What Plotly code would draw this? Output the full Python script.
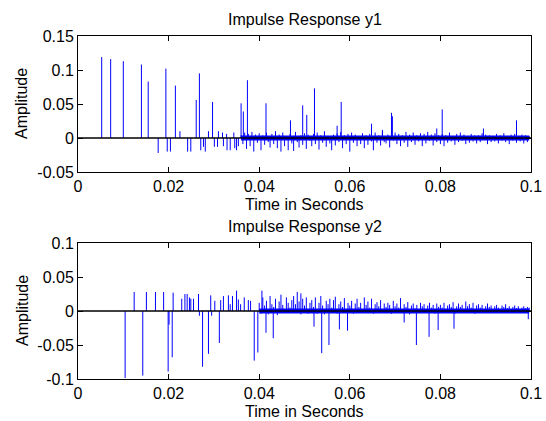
import numpy as np
import plotly.graph_objects as go

# ---------------- data ----------------
# prominent reflections, y1 (time s, amplitude)
y1_spike_t = [0.00523, 0.00721, 0.0100, 0.0140, 0.0155, 0.0177, 0.0194, 0.0197, 0.0204, 0.0215,
              0.0225, 0.0242, 0.0249, 0.0261, 0.0268, 0.0271, 0.0277, 0.0281, 0.0288, 0.0297,
              0.0301, 0.0308, 0.0310, 0.0319, 0.0321, 0.0328, 0.0329, 0.0336, 0.0344, 0.0346,
              0.0350, 0.0354, 0.0360, 0.0365, 0.0374, 0.0415, 0.0469, 0.0496, 0.0505, 0.0522,
              0.0572, 0.0581, 0.0648, 0.0672, 0.0692, 0.0694, 0.0792, 0.0804, 0.0895, 0.0968]
y1_spike_v = [0.119, 0.116, 0.113, 0.108, 0.083, -0.022, 0.102, -0.020, -0.020, 0.077,
              0.010, -0.020, -0.020, 0.056, 0.095, -0.018, -0.013, -0.020, 0.010, 0.053,
              -0.013, -0.013, 0.010, 0.008, -0.012, 0.006, -0.018, -0.018, 0.008, -0.015,
              -0.018, -0.012, 0.051, 0.039, 0.085, 0.051, 0.026, 0.048, 0.034, 0.073,
              0.018, 0.053, 0.021, 0.012, 0.037, 0.032, 0.014, 0.042, 0.014, 0.026]

# diffuse tail of y1 (milli-units), samples every 0.4 ms from 36 ms
y1_tail_start = 0.036
y1_tail_step = 0.0004
y1_tail_milli = [
    4, -9, 8, -16, 6, -12, 9, -20, 5, -7,
    7, -18, 4, -10, 8, -6, -14, 6, -9, 10,
    -15, 5, -20, 8, -12, 3, -18, 6, -8, -19,
    9, -6, -14, 4, -10, 7, -16, 5, -4, -12,
    6, -9, 8, -17, 4, -7, 10, -13, 3, -8,
    -18, 5, -11, 7, -6, 9, -15, 4, -9, 6,
    -20, 8, -7, 5, -12, 3, -9, 7, -15, 4,
    -10, 6, -5, -18, 8, -7, 4, -11, 9, -6,
    -8, 5, -14, 10, -4, 8, -9, 6, -12, 4,
    -7, 9, -13, 5, -6, 8, -10, 4, -5, 7,
    -12, 6, -8, 9, -4, 5, -11, 7, -6, 4,
    -9, 6, -12, 4, -7, 8, -5, 3, -10, 6,
    -6, 8, -4, 5, -9, 3, -7, 6, -5, 4,
    -8, 4, -6, 7, -3, 5, -9, 4, -6, 3,
    -5, 6, -8, 4, -4, 7, -6, 3, -9, 5,
    -4, 6, -7, 3, -5, 5, -8, 4, -6, 3]

# prominent reflections, y2
y2_spike_t = [0.0104, 0.0124, 0.0143, 0.0151, 0.0171, 0.0189, 0.0199, 0.0201, 0.0208, 0.0210,
              0.0229, 0.0236, 0.0241, 0.0246, 0.0249, 0.0255, 0.0266, 0.0268, 0.0275, 0.0288,
              0.0293, 0.0295, 0.0302, 0.0312, 0.0315, 0.0321, 0.0332, 0.0336, 0.0341, 0.0350,
              0.0354, 0.0359, 0.0367, 0.0376, 0.0381, 0.0389, 0.0397, 0.0406, 0.0415, 0.0431,
              0.0492, 0.0521, 0.0538, 0.0554, 0.0577, 0.0595, 0.0720, 0.0747, 0.0775, 0.0795,
              0.0830, 0.0994]
y2_spike_v = [-0.0985, 0.028, -0.095, 0.028, 0.028, 0.028, -0.089, -0.020, -0.068, 0.027,
              0.018, 0.025, 0.025, 0.020, 0.018, 0.018, 0.025, -0.007, -0.082, -0.063,
              0.023, -0.007, 0.015, -0.047, 0.016, 0.022, 0.023, 0.010, 0.022, 0.030,
              0.017, 0.010, 0.020, 0.016, 0.015, -0.073, -0.061, 0.030, -0.032, -0.040,
              0.026, -0.023, -0.062, -0.050, -0.027, -0.029, -0.017, -0.050, -0.038, -0.028,
              -0.026, -0.012]

# diffuse tail of y2 (milli-units), samples every 0.4 ms from 40 ms
y2_tail_start = 0.040
y2_tail_step = 0.0004
y2_tail_milli = [
    12, -4, 20, 8, 15, -5, 22, 10, 6, 18,
    -6, 14, 24, 9, -3, 20, 12, 5, 16, 22,
    10, 28, 14, -5, 18, 8, 20, -4, 12, 16,
    6, 20, -4, 12, 22, 8, -5, 15, 10, 18,
    5, 16, 21, -4, 10, 14, 6, 19, -3, 12,
    8, 15, -4, 11, 18, 6, 12, -3, 20, 9,
    14, 5, 18, -4, 10, 13, 7, 16, -3, 11,
    6, 12, 9, -4, 15, 7, 11, 5, 19, -3,
    10, 6, 13, -5, 8, 11, 4, 9, -3, 12,
    7, 10, -3, 8, 12, 5, 9, -4, 11, 6,
    9, 5, 12, -3, 8, 10, 6, 13, -4, 7,
    11, 6, 9, -3, 14, 7, 10, 5, 12, -4,
    8, 10, 5, 9, -3, 7, 11, 6, 8, -3,
    7, 9, 5, -3, 8, 6, 10, 4, 7, -2,
    6, 8, 4, 7, -3, 5, 7, 4, 6, 5]

x_tick_vals = [0, 0.02, 0.04, 0.06, 0.08, 0.1]
x_tick_text = ["0", "0.02", "0.04", "0.06", "0.08", "0.1"]
y1_tick_vals = [-0.05, 0, 0.05, 0.1, 0.15]
y1_tick_text = ["-0.05", "0", "0.05", "0.1", "0.15"]
y2_tick_vals = [-0.1, -0.05, 0, 0.05, 0.1]
y2_tick_text = ["-0.1", "-0.05", "0", "0.05", "0.1"]

titles = ["Impulse Response y1", "Impulse Response y2"]
x_label = "Time in Seconds"
y_label = "Amplitude"


# ---------------- helpers ----------------
def stems(ts, vs):
    xs, ys = [], []
    for t, v in zip(ts, vs):
        xs += [t, t, None]
        ys += [0, v, None]
    return xs, ys


def tail(start, step, milli):
    tt = [start + step * i for i in range(len(milli))]
    vv = [m / 1000.0 for m in milli]
    return tt, vv


W, H = 546, 421
FONT = "Liberation Sans, Arial, sans-serif"
BLUE = "#0000ff"

fig = go.Figure()

panels = [
    (y1_spike_t, y1_spike_v, tail(y1_tail_start, y1_tail_step, y1_tail_milli), "x", "y"),
    (y2_spike_t, y2_spike_v, tail(y2_tail_start, y2_tail_step, y2_tail_milli), "x2", "y2"),
]
for (st, sv, (tt, tv), xa, ya) in panels:
    # fuzzy low-level band of the diffuse tail around the baseline
    fig.add_trace(go.Scatter(x=[tt[0], tt[-1]], y=[0, 0], mode="lines", xaxis=xa, yaxis=ya,
                             line=dict(color=BLUE, width=5), hoverinfo="skip",
                             showlegend=False))
    sx, sy = stems(tt, tv)
    fig.add_trace(go.Scatter(x=sx, y=sy, mode="lines", xaxis=xa, yaxis=ya,
                             line=dict(color=BLUE, width=1), hoverinfo="skip",
                             showlegend=False))
    sx, sy = stems(st, sv)
    fig.add_trace(go.Scatter(x=sx, y=sy, mode="lines", xaxis=xa, yaxis=ya,
                             line=dict(color=BLUE, width=1), hoverinfo="skip",
                             showlegend=False))
    fig.add_trace(go.Scatter(x=[0, 0.1], y=[0, 0], mode="lines", xaxis=xa, yaxis=ya,
                             line=dict(color="black", width=1.5), hoverinfo="skip",
                             showlegend=False))

# plot areas in pixels
x0, x1 = 78, 531
top_box = (36, 172)
bot_box = (243, 379)


def ydom(box):
    return [1 - box[1] / H, 1 - box[0] / H]


axis_common = dict(showline=True, linecolor="black", linewidth=1, mirror="ticks",
                   ticks="inside", ticklen=5, tickcolor="black", showgrid=False,
                   zeroline=False, automargin=False,
                   tickfont=dict(family=FONT, size=16, color="black"))

fig.update_layout(
    width=W, height=H,
    margin=dict(l=0, r=0, t=0, b=0, autoexpand=False),
    paper_bgcolor="white", plot_bgcolor="white",
    xaxis=dict(domain=[x0 / W, x1 / W], range=[0, 0.1], tickvals=x_tick_vals,
               ticktext=x_tick_text, anchor="y", **axis_common),
    yaxis=dict(domain=ydom(top_box), range=[-0.05, 0.15], tickvals=y1_tick_vals,
               ticktext=y1_tick_text, anchor="x", **axis_common),
    xaxis2=dict(domain=[x0 / W, x1 / W], range=[0, 0.1], tickvals=x_tick_vals,
                ticktext=x_tick_text, anchor="y2", **axis_common),
    yaxis2=dict(domain=ydom(bot_box), range=[-0.1, 0.1], tickvals=y2_tick_vals,
                ticktext=y2_tick_text, anchor="x2", **axis_common),
)

xc = (x0 + x1) / 2 / W
ann = []
for title, box in [(titles[0], top_box), (titles[1], bot_box)]:
    ann.append(dict(text=title, x=xc, y=1 - (box[0] - 17) / H, xref="paper", yref="paper",
                    xanchor="center", yanchor="middle", showarrow=False,
                    font=dict(family=FONT, size=16, color="black")))
    ann.append(dict(text=x_label, x=xc, y=1 - (box[1] + 32) / H, xref="paper", yref="paper",
                    xanchor="center", yanchor="middle", showarrow=False,
                    font=dict(family=FONT, size=16, color="black")))
    ann.append(dict(text=y_label, x=22 / W, y=1 - (box[0] + box[1]) / 2 / H, xref="paper",
                    yref="paper", xanchor="center", yanchor="middle", textangle=-90,
                    showarrow=False, font=dict(family=FONT, size=16, color="black")))
fig.update_layout(annotations=ann)

fig.write_html("out.html")
